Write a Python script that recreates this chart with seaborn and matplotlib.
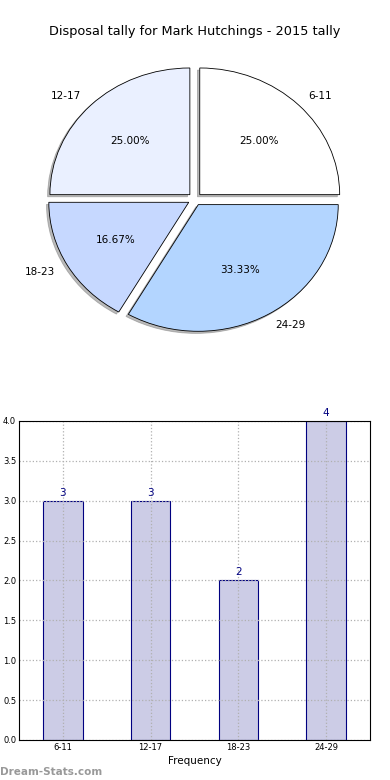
import matplotlib
matplotlib.use("Agg")
import matplotlib.pyplot as plt
import seaborn as sns
import pandas as pd

categories = ["6-11", "12-17", "18-23", "24-29"]
counts = [3, 3, 2, 4]
pie_colors = ["#ffffff", "#eaf0ff", "#c6d8ff", "#b3d5ff"]
title = "Disposal tally for Mark Hutchings - 2015 tally"
yticks = [0.0, 0.5, 1.0, 1.5, 2.0, 2.5, 3.0, 3.5, 4.0]

sns.set_style("white")
plt.rcParams['font.family'] = ['DejaVu Sans']
plt.rcParams['text.color'] = 'black'
plt.rcParams['axes.labelcolor'] = 'black'
plt.rcParams['xtick.color'] = 'black'
plt.rcParams['ytick.color'] = 'black'

fig = plt.figure(figsize=(3.9, 7.8), dpi=100)

# Pie chart
axp = fig.add_axes([0.051, 0.5417, 0.897, 0.406])
axp.pie(counts, labels=categories, colors=pie_colors, explode=[0.05] * 4,
        autopct="%1.2f%%", shadow={"ox": -0.012, "oy": -0.012, "color": "#777777"},
        startangle=0, labeldistance=1.1,
        wedgeprops=dict(edgecolor="black", linewidth=0.6),
        textprops=dict(fontsize=7.5, color="black"))
axp.set_xlim(-1.25, 1.25)
axp.set_ylim(-1.25, 1.25)
axp.set_aspect("auto")
axp.set_title(title, fontsize=9.3, pad=4, color="black")

# Bar chart
axb = fig.add_axes([0.0487, 0.0513, 0.9, 0.409])
df = pd.DataFrame({"cat": categories, "count": counts})
sns.barplot(data=df, x="cat", y="count", ax=axb, color="#ccccE6", saturation=1,
            width=0.45, edgecolor="#000080", linewidth=0.8, zorder=2)
axb.set_xlim(-0.5, 3.5)
axb.set_ylim(0, 4.0)
axb.set_yticks(yticks)
axb.set_yticklabels([f"{v:.1f}" for v in yticks])
axb.tick_params(axis="both", labelsize=6, length=3, pad=2, direction="in")
axb.grid(True, linestyle=":", color="#b0b0b0", linewidth=0.9, zorder=0)
axb.set_axisbelow(False)
for i, v in enumerate(counts):
    axb.text(i, v + 0.04, str(v), ha="center", va="bottom", color="#000080", fontsize=7.5)
axb.set_xlabel("Frequency", fontsize=7.5, labelpad=3)
axb.set_ylabel("")
for s in axb.spines.values():
    s.set_color("black")
    s.set_linewidth(0.8)
    s.set_zorder(5)

fig.text(0.0, 0.004, "Dream-Stats.com", color="#999999", fontsize=7.5, fontweight="bold", ha="left", va="bottom")

fig.savefig("out.png", dpi=100)
